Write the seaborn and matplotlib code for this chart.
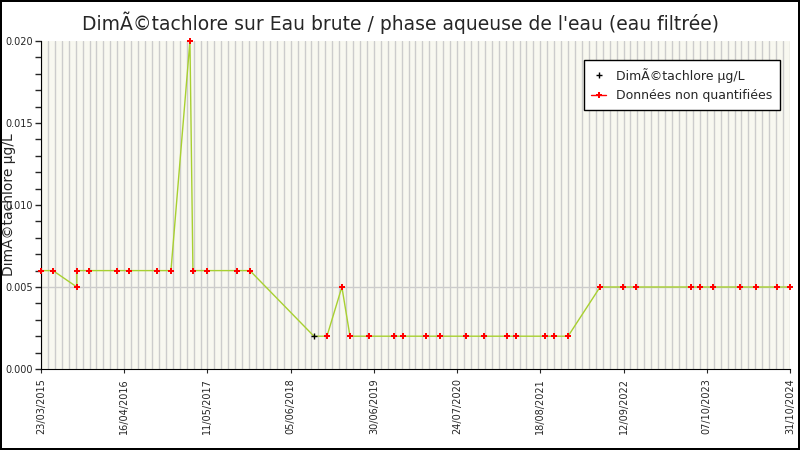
import numpy as np
import pandas as pd
import matplotlib
matplotlib.use("Agg")
import matplotlib.pyplot as plt
import seaborn as sns

# ---------------------------------------------------------------------------
# Data
# ---------------------------------------------------------------------------
dates = [
    "2015-03-23", "2015-05-18", "2015-09-07", "2015-09-07", "2015-11-03",
    "2016-03-13", "2016-05-08", "2016-09-17", "2016-11-21", "2017-02-18",
    "2017-03-04", "2017-05-09", "2017-09-26", "2017-11-26", "2018-09-22",
    "2018-11-22", "2019-01-31", "2019-03-10", "2019-06-07", "2019-10-02",
    "2019-11-13", "2020-03-01", "2020-05-06", "2020-09-05", "2020-11-28",
    "2021-03-16", "2021-04-27", "2021-09-10", "2021-10-22", "2021-12-26",
    "2022-05-25", "2022-09-10", "2022-11-10", "2023-07-26", "2023-09-06",
    "2023-11-06", "2024-03-11", "2024-05-25", "2024-09-01", "2024-10-31",
]
values = [
    0.006, 0.006, 0.005, 0.006, 0.006,
    0.006, 0.006, 0.006, 0.006, 0.020,
    0.006, 0.006, 0.006, 0.006, 0.002,
    0.002, 0.005, 0.002, 0.002, 0.002,
    0.002, 0.002, 0.002, 0.002, 0.002,
    0.002, 0.002, 0.002, 0.002, 0.002,
    0.005, 0.005, 0.005, 0.005, 0.005,
    0.005, 0.005, 0.005, 0.005, 0.005,
]
# True = non quantified
non_quant = [True] * 40
non_quant[14] = False

tick_labels = ["23/03/2015", "16/04/2016", "11/05/2017", "05/06/2018", "30/06/2019",
               "24/07/2020", "18/08/2021", "12/09/2022", "07/10/2023", "31/10/2024"]

df = pd.DataFrame({"date": pd.to_datetime(dates), "value": values, "nq": non_quant})

# ---------------------------------------------------------------------------
# Plot
# ---------------------------------------------------------------------------
sns.set_style("white")
plt.rcParams["font.family"] = ["DejaVu Sans"]

fig = plt.figure(figsize=(8, 4.5), dpi=100)
fig.patch.set_edgecolor("black")
fig.patch.set_linewidth(1.5)
ax = fig.add_axes([41 / 800, 81 / 450, 749 / 800, 328 / 450])
ax.set_facecolor("#F8F8F0")

start, end = pd.Timestamp("2015-03-23"), pd.Timestamp("2024-10-31")
minor = pd.date_range(start, end, freq="32.5D")
for d in minor:
    ax.axvline(d, color="#CCCCCC", lw=1, zorder=0)
ax.axhline(0.005, color="#CCCCCC", lw=1, zorder=0)

sns.lineplot(data=df, x="date", y="value", ax=ax, color="#A8D030", lw=1,
             estimator=None, sort=False, zorder=2)
q = df[~df["nq"]]
nq = df[df["nq"]]
ax.plot(q["date"], q["value"], "+", color="black", ms=4, mew=1, zorder=3,
        clip_on=False, label="DimÃ©tachlore µg/L")
ax.plot(nq["date"], nq["value"], "P", color="red", ms=4.5, mew=0, zorder=3,
        clip_on=False)
ax.plot([], [], "-P", color="red", ms=4.5, mew=0, lw=1, label="Données non quantifiées")

ticks = [start + pd.Timedelta(days=390 * i) for i in range(10)]
ax.set_xticks(ticks)
ax.set_xticklabels(tick_labels, rotation=90, fontsize=7)
ax.set_xlim(start, end)
ax.set_ylim(0, 0.020)
ax.set_yticks([0, 0.005, 0.010, 0.015, 0.020])
ax.set_yticklabels(["0.000", "0.005", "0.010", "0.015", "0.020"], fontsize=7)
ax.set_yticks(np.arange(0, 0.0201, 0.001), minor=True)
ax.tick_params(axis="y", which="both", left=True, length=4, width=1, pad=2)
ax.tick_params(axis="x", bottom=True, length=3)
ax.set_xlabel("")
ax.set_ylabel("DimÃ©tachlore µg/L", fontsize=10)
ax.yaxis.set_label_coords(-0.033, 0.5)
for s in ["top", "right"]:
    ax.spines[s].set_visible(False)
for s in ["left", "bottom"]:
    ax.spines[s].set_color("black")

fig.text(0.5, 0.95, "DimÃ©tachlore sur Eau brute / phase aqueuse de l'eau (eau filtrée)",
         ha="center", va="center", fontsize=13.5)
leg = ax.legend(loc="upper right", bbox_to_anchor=(0.995, 0.96), fontsize=9,
                frameon=True, fancybox=False, edgecolor="black", framealpha=1,
                handlelength=1.2, borderpad=0.6)
leg.get_frame().set_linewidth(1)

fig.savefig("out.png", dpi=100, edgecolor=fig.get_edgecolor())
